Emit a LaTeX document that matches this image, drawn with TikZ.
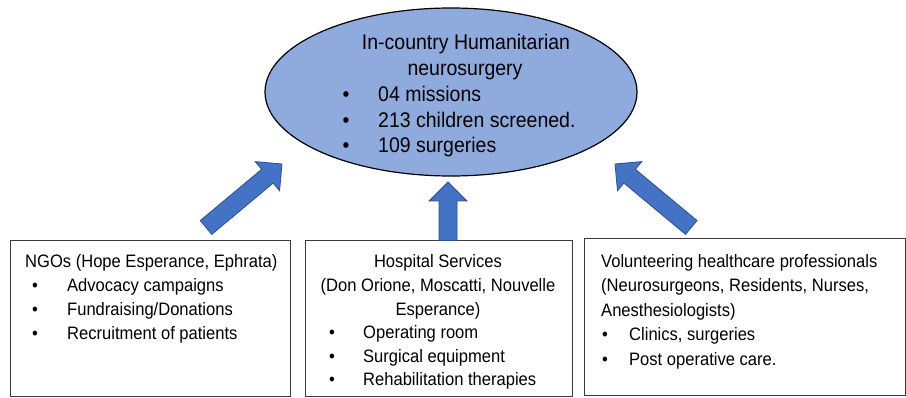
\documentclass[tikz,border=0pt]{standalone}
\usepackage{fontspec}
\setmainfont{Liberation Sans}[FakeStretch=0.92]
\usetikzlibrary{shapes.geometric,calc}
\definecolor{hubfill}{HTML}{8FAADC}
\definecolor{arrfill}{HTML}{4472C4}
\definecolor{arrline}{HTML}{2F528F}
\definecolor{boxline}{HTML}{3A3A3A}
\newcommand\boxfont{\fontsize{18}{24}\selectfont}
\newcommand\hubfont{\fontsize{21.2}{26}\selectfont}
% block arrow from #1 (tail centre) to #2 (tip)
\newcommand\blockarrow[2]{%
  \draw[blockarr] let \p1=($(#2)-(#1)$), \n1={atan2(\y1,\x1)}, \n2={veclen(\x1,\y1)} in
    ($(#1)+(\n1+90:9)$) -- ($(#1)+(\n1+90:9)+(\n1:\n2-19)$)
    -- ($(#1)+(\n1+90:19)+(\n1:\n2-19)$) -- (#2)
    -- ($(#1)+(\n1-90:19)+(\n1:\n2-19)$) -- ($(#1)+(\n1-90:9)+(\n1:\n2-19)$)
    -- ($(#1)+(\n1-90:9)$) -- cycle;}
\tikzset{
  blockarr/.style={fill=arrfill, draw=arrline, line width=0.8pt, line join=miter},
  panel/.style={draw=boxline, line width=1pt, rectangle, inner sep=0pt},
  txt/.style={anchor=base west, inner sep=0pt, font=\boxfont},
  ctxt/.style={anchor=base, inner sep=0pt, font=\boxfont},
  bul/.style={anchor=base, inner sep=0pt, font=\boxfont},
  htxt/.style={anchor=base west, inner sep=0pt, font=\hubfont},
  hctxt/.style={anchor=base, inner sep=0pt, font=\hubfont},
  hbul/.style={anchor=base, inner sep=0pt, font=\hubfont},
}
\begin{document}
\begin{tikzpicture}[x=1pt,y=1pt]
\useasboundingbox (0,0) rectangle (906,397);

% central ellipse
\node[ellipse, draw=black, line width=1.2pt, fill=hubfill, minimum width=372pt, minimum height=168pt, inner sep=0pt] (hub) at (451,305) {};
\node[hctxt] (hub1) at (466,347) {In-country Humanitarian};
\node[hctxt] (hub2) at (465,321.5) {neurosurgery};
\node[hbul] (hb1) at (346,295.5) {•};
\node[htxt] (hi1) at (378,295.5) {04 missions};
\node[hbul] (hb2) at (346,269.5) {•};
\node[htxt] (hi2) at (378,269.5) {213 children screened.};
\node[hbul] (hb3) at (346,244.5) {•};
\node[htxt] (hi3) at (378,244.5) {109 surgeries};

% supporting partners
\node[panel, minimum width=280pt, minimum height=155pt] (ngo) at (150,78.5) {};
\node[panel, minimum width=267pt, minimum height=155pt] (hosp) at (438.5,78.5) {};
\node[panel, minimum width=321pt, minimum height=156pt] (vol) at (744.5,80) {};

% NGOs
\node[txt] (n0) at (25,129.5) {NGOs (Hope Esperance, Ephrata)};
\node[bul] (nb1) at (35,105.5) {•};
\node[txt] (n1) at (67,105.5) {Advocacy campaigns};
\node[bul] (nb2) at (35,81.5) {•};
\node[txt] (n2) at (67,81.5) {Fundraising/Donations};
\node[bul] (nb3) at (35,57.5) {•};
\node[txt] (n3) at (67,57.5) {Recruitment of patients};

% hospitals
\node[ctxt] (p0) at (438,129) {Hospital Services};
\node[ctxt] (p1) at (438,105.5) {(Don Orione, Moscatti, Nouvelle};
\node[ctxt] (p2) at (438,82) {Esperance)};
\node[bul] (pb1) at (332,58.5) {•};
\node[txt] (pi1) at (363,58.5) {Operating room};
\node[bul] (pb2) at (332,35) {•};
\node[txt] (pi2) at (363,35) {Surgical equipment};
\node[bul] (pb3) at (332,11.5) {•};
\node[txt] (pi3) at (363,11.5) {Rehabilitation therapies};

% volunteers
\node[txt] (v0) at (601,129.5) {Volunteering healthcare professionals};
\node[txt] (v1) at (601,105.5) {(Neurosurgeons, Residents, Nurses,};
\node[txt] (v2) at (601,81) {Anesthesiologists)};
\node[bul] (vb1) at (605,56.5) {•};
\node[txt] (vi1) at (629,56.5) {Clinics, surgeries};
\node[bul] (vb2) at (605,32) {•};
\node[txt] (vi2) at (629,32) {Post operative care.};

% arrow ends
\coordinate (t1) at (206,169.5);
\coordinate (h1) at (282,233);
\coordinate (t2) at ($(hosp.north)+(9.5,0)$);
\coordinate (h2) at (448,215);
\coordinate (t3) at (691.3,169.5);
\coordinate (h3) at (615,233);

\blockarrow{t1}{h1}
\blockarrow{t2}{h2}
\blockarrow{t3}{h3}
\end{tikzpicture}
\end{document}
